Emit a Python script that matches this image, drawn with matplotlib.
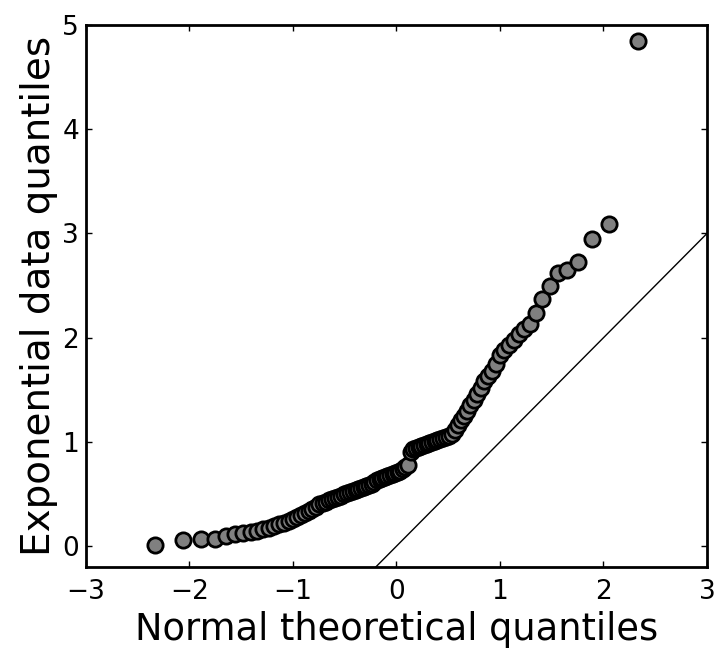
import matplotlib
matplotlib.use("Agg")
import matplotlib.pyplot as plt

# Theoretical normal quantiles (n = 100 points)
theoretical_q = [
    -2.330, -2.058, -1.885, -1.755, -1.650, -1.560, -1.480, -1.410, -1.346, -1.287,
    -1.232, -1.181, -1.133, -1.087, -1.043, -1.001, -0.961, -0.922, -0.885, -0.849,
    -0.814, -0.780, -0.746, -0.714, -0.682, -0.651, -0.621, -0.591, -0.562, -0.533,
    -0.505, -0.477, -0.449, -0.422, -0.395, -0.369, -0.342, -0.316, -0.290, -0.264,
    -0.239, -0.213, -0.188, -0.162, -0.137, -0.112, -0.087, -0.062, -0.037, -0.012,
    0.012, 0.037, 0.062, 0.087, 0.112, 0.137, 0.162, 0.188, 0.213, 0.239,
    0.264, 0.290, 0.316, 0.342, 0.369, 0.395, 0.422, 0.449, 0.477, 0.505,
    0.533, 0.562, 0.591, 0.621, 0.651, 0.682, 0.714, 0.746, 0.780, 0.814,
    0.849, 0.885, 0.922, 0.961, 1.001, 1.043, 1.087, 1.133, 1.181, 1.232,
    1.287, 1.346, 1.410, 1.480, 1.560, 1.650, 1.755, 1.885, 2.058, 2.330,
]

# Sorted exponential sample (data quantiles)
data_q = [
    0.01, 0.06, 0.065, 0.07, 0.10, 0.12, 0.13, 0.14, 0.15, 0.16,
    0.17, 0.19, 0.21, 0.22, 0.24, 0.26, 0.28, 0.30, 0.32, 0.34,
    0.36, 0.38, 0.40, 0.41, 0.42, 0.44, 0.45, 0.46, 0.47, 0.48,
    0.50, 0.51, 0.52, 0.53, 0.54, 0.55, 0.56, 0.57, 0.58, 0.59,
    0.60, 0.62, 0.63, 0.64, 0.65, 0.66, 0.67, 0.68, 0.69, 0.70,
    0.71, 0.72, 0.74, 0.76, 0.78, 0.90, 0.93, 0.94, 0.95, 0.96,
    0.97, 0.98, 0.99, 1.00, 1.01, 1.02, 1.03, 1.04, 1.05, 1.06,
    1.08, 1.11, 1.16, 1.21, 1.25, 1.30, 1.35, 1.40, 1.46, 1.52,
    1.58, 1.63, 1.68, 1.75, 1.83, 1.88, 1.93, 1.98, 2.04, 2.08,
    2.13, 2.24, 2.37, 2.50, 2.62, 2.65, 2.73, 2.95, 3.09, 4.85,
]

ref_line_x = [-3, 3]
ref_line_y = [-3, 3]

x_ticks = [-3, -2, -1, 0, 1, 2, 3]
y_ticks = [0, 1, 2, 3, 4, 5]

plt.rcParams['font.family'] = ['DejaVu Sans']

fig = plt.figure(figsize=(7.19, 6.5), dpi=100)
ax = fig.add_axes([0.1196, 0.1277, 0.8637, 0.8338])

ax.plot(theoretical_q, data_q, linestyle='none', marker='o', markersize=11,
        markerfacecolor='#808080', markeredgecolor='black', markeredgewidth=2)
ax.plot(ref_line_x, ref_line_y, color='black', linewidth=1)

ax.set_xlim(-3, 3)
ax.set_ylim(-0.2, 5)
ax.set_xticks(x_ticks)
ax.set_yticks(y_ticks)
ax.tick_params(direction='in', top=True, right=True, length=4, width=1,
               labelsize=19)
ax.tick_params(axis='x', pad=9)
ax.tick_params(axis='y', pad=5)
for s in ax.spines.values():
    s.set_linewidth(2)

ax.set_xlabel('Normal theoretical quantiles', fontsize=26.5, labelpad=4)
ax.set_ylabel('Exponential data quantiles', fontsize=28, labelpad=3)

fig.savefig('out.png', dpi=100)
